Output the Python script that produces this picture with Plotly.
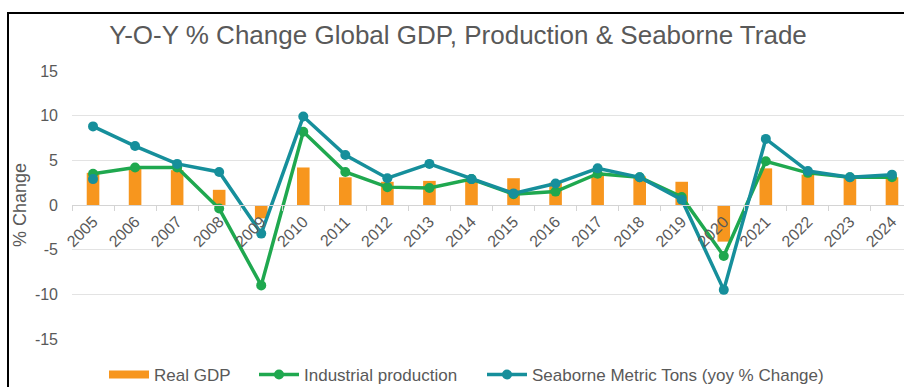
import plotly.graph_objects as go

# Annual year-on-year % change, 2005-2024
years = [str(y) for y in range(2005, 2025)]
real_gdp = [3.6, 4.1, 3.9, 1.7, -1.5, 4.2, 3.1, 2.6, 2.7, 2.8,
            3.0, 2.5, 3.3, 3.2, 2.6, -4.1, 4.1, 3.4, 3.1, 3.1]
industrial_production = [3.5, 4.2, 4.2, -0.4, -9.0, 8.2, 3.7, 2.0, 1.9, 2.9,
                         1.2, 1.5, 3.5, 3.1, 0.9, -5.7, 4.9, 3.6, 3.1, 3.1]
seaborne_tons = [8.8, 6.6, 4.6, 3.7, -3.2, 9.9, 5.6, 3.0, 4.6, 2.9,
                 1.3, 2.4, 4.1, 3.1, 0.6, -9.5, 7.4, 3.8, 3.1, 3.4]
# extra seaborne reading plotted for 2005
seaborne_extra_year = ["2005"]
seaborne_extra_value = [2.9]

y_ticks = [-15, -10, -5, 0, 5, 10, 15]
y_tick_labels = ["-15", "-10", "-5", "0", "5", "10", "15"]

ORANGE = "#F7961E"
GREEN = "#1FA84F"
TEAL = "#168F9B"
TEXT = "#595959"
FONT = "Liberation Sans, Arial, sans-serif"

W, H = 904, 387
L, R, T, B = 72, 0, 71, 48
plot_w = W - L - R
plot_h = H - T - B


def paper_x(px):
    return (px - L) / plot_w


def paper_y(py):
    return (H - B - py) / plot_h


fig = go.Figure()

fig.add_trace(go.Bar(
    x=years, y=real_gdp, name="Real GDP",
    marker=dict(color=ORANGE, line=dict(width=0)),
    width=0.3, showlegend=False, legendgroup="gdp",
))
# legend swatch for the bars (wide flat bar)
fig.add_trace(go.Scatter(
    x=[None], y=[None], mode="lines", name="Real GDP",
    line=dict(color=ORANGE, width=8), legendgroup="gdp", legend="legend",
))
fig.add_trace(go.Scatter(
    x=years, y=industrial_production, name="Industrial production",
    mode="lines+markers",
    line=dict(color=GREEN, width=3.5),
    marker=dict(color=GREEN, size=10),
    legend="legend2",
))
fig.add_trace(go.Scatter(
    x=seaborne_extra_year, y=seaborne_extra_value, mode="markers",
    marker=dict(color=TEAL, size=10), showlegend=False, hoverinfo="skip",
))
fig.add_trace(go.Scatter(
    x=years, y=seaborne_tons, name="Seaborne Metric Tons (yoy % Change)",
    mode="lines+markers",
    line=dict(color=TEAL, width=3.5),
    marker=dict(color=TEAL, size=10),
    legend="legend3",
))


def legend_at(px_left):
    return dict(
        orientation="h",
        xref="container", x=px_left / W, xanchor="left",
        yref="container", y=(H - 375) / H, yanchor="middle",
        font=dict(size=17, color=TEXT, family=FONT),
        itemwidth=40,
        bgcolor="rgba(0,0,0,0)",
    )


fig.update_layout(
    width=W, height=H,
    margin=dict(l=L, r=R, t=T, b=B, pad=0, autoexpand=False),
    paper_bgcolor="white", plot_bgcolor="white",
    font=dict(family=FONT, color=TEXT),
    title=dict(
        text="Y-O-Y % Change Global GDP, Production & Seaborne Trade",
        x=458 / W, xanchor="center", xref="container",
        y=(H - 35) / H, yanchor="middle", yref="container",
        font=dict(size=26, color=TEXT, family=FONT),
    ),
    legend=legend_at(104),
    legend2=legend_at(254),
    legend3=legend_at(482),
    xaxis=dict(
        type="category",
        range=[-0.5, -0.5 + plot_w / 42.05],
        anchor="free", position=0.5,
        automargin=False,
        showgrid=False,
        showline=True, linecolor="#D4D4D4", linewidth=1,
        ticks="outside", tickson="boundaries", ticklen=5, tickcolor="#D4D4D4",
        tickangle=-45,
        tickfont=dict(size=16, color=TEXT, family=FONT),
        zeroline=False,
    ),
    yaxis=dict(
        range=[-15, 15],
        tickvals=y_ticks,
        ticktext=y_tick_labels,
        automargin=False,
        showgrid=True, gridcolor="#E3E3E3", gridwidth=1,
        zeroline=False,
        showline=False,
        tickfont=dict(size=16, color=TEXT, family=FONT),
        ticklabelstandoff=13,
        title=dict(text="% Change", font=dict(size=18, color=TEXT, family=FONT),
                   standoff=3),
    ),
    shapes=[dict(
        type="rect", xref="paper", yref="paper",
        x0=paper_x(8), x1=paper_x(1100), y0=paper_y(600), y1=paper_y(13),
        line=dict(color="black", width=2), fillcolor="rgba(0,0,0,0)",
        layer="above",
    )],
)

fig.write_html("out.html")
